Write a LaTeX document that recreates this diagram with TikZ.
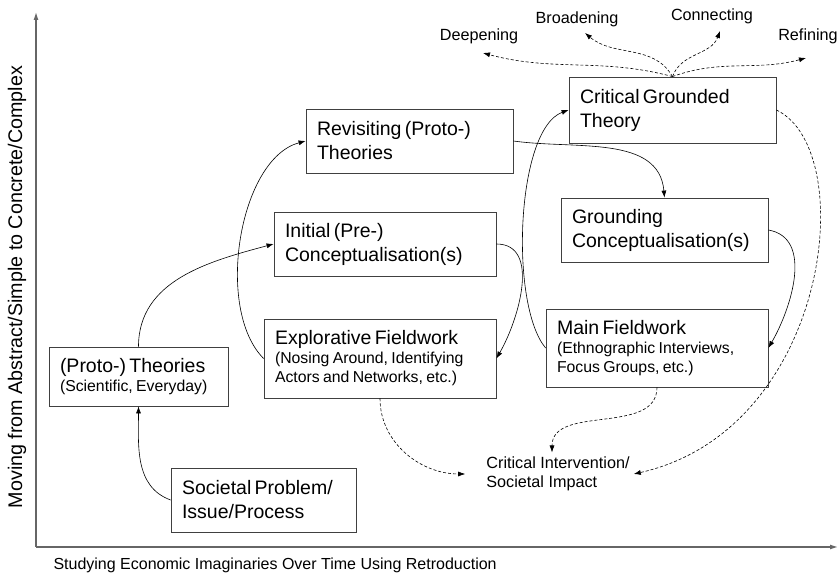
\documentclass[tikz,border=0pt]{standalone}
\usepackage{fontspec}
\setmainfont{Liberation Sans}
\usetikzlibrary{arrows.meta,positioning}
\newcommand{\boxhead}[1]{{\fontsize{19.5}{24}\selectfont #1\par}}
\newcommand{\boxsub}[1]{{\fontsize{15.8}{19}\selectfont #1\par}}

\begin{document}
\begin{tikzpicture}[x=1pt,y=1pt,
  stage/.style={draw=black!75,line width=0.8pt,rectangle,align=left,inner xsep=11pt,inner ysep=0pt},
  link/.style={-{Latex[length=7pt,width=5pt]},line width=0.6pt},
  feedback/.style={link,dash pattern=on 3pt off 2pt},
  axis/.style={-{Latex[length=8pt,width=5pt]},draw=black!60,line width=1.2pt},
  small/.style={font=\fontsize{16.2}{19.5}\selectfont}]
\useasboundingbox (0,0) rectangle (840,580);

% Achsen
\coordinate (origin) at (36,33);
\coordinate (xend) at (838,33);
\coordinate (yend) at (36,568);
\draw[axis] (origin) -- (xend);
\draw[axis] (origin) -- (yend);
\node[font=\fontsize{16}{19}\selectfont,anchor=west] (xlabel) at (50,15) {Studying Economic Imaginaries Over Time Using Retroduction};
\node[font=\fontsize{19.7}{23}\selectfont,rotate=90] (ylabel) at (17,293) {Moving from Abstract/Simple to Concrete/Complex};

% Stationen
\node[stage,text width=163pt,minimum height=64pt] (soc) at (263.5,80) {\boxhead{Societal Problem/\\Issue/Process}};
\node[stage,text width=157pt,minimum height=59pt] (proto) at (138.5,203.5) {\boxhead{(Proto-) Theories}\boxsub{(Scientific, Everyday)}};
\node[stage,text width=200pt,minimum height=64pt] (init) at (385,336) {\boxhead{Initial (Pre-)\\Conceptualisation(s)}};
\node[stage,text width=210pt,minimum height=79pt] (expl) at (380,221.5) {\boxhead{Explorative Fieldwork}\boxsub{(Nosing Around, Identifying\\Actors and Networks, etc.)}};
\node[stage,text width=185pt,minimum height=64pt] (rev) at (409.5,439) {\boxhead{Revisiting (Proto-)\\Theories}};
\node[stage,text width=185pt,minimum height=64pt] (grd) at (664.5,350) {\boxhead{Grounding\\Conceptualisation(s)}};
\node[stage,text width=200pt,minimum height=78pt] (main) at (657,232) {\boxhead{Main Fieldwork}\boxsub{(Ethnographic Interviews,\\Focus Groups, etc.)}};
\node[stage,text width=185pt,minimum height=66pt] (cgt) at (672.5,470) {\boxhead{Critical Grounded\\Theory}};

% Wirkung
\node[small,align=left,inner sep=4pt] (ci) at (558,106) {Critical Intervention/\\Societal Impact};

% Richtungen
\node[small] (deep) at (479,544) {Deepening};
\node[small] (broad) at (577,561) {Broadening};
\node[small] (conn) at (712,564) {Connecting};
\node[small] (refine) at (808,544) {Refining};
\coordinate (deepTip) at (483,527);
\coordinate (broadTip) at (585,547);
\coordinate (connTip) at (720,549);
\coordinate (refineTip) at (806,522);

% Verbindungen
\draw[link] (soc.west) to[out=160,in=-90] (proto.south);
\draw[link] (proto.north) to[out=90,in=195] (init.west);
\draw[link] (init.east) to[out=0,in=60] (expl.east);
\draw[link] (expl.west) to[out=135,in=195,looseness=0.8] (rev.west);
\draw[link] (rev.east) to[out=-8,in=95] (grd.north);
\draw[link] (grd.east) to[out=-10,in=60] (main.east);
\draw[link] (main.west) to[out=130,in=200,looseness=0.6] (cgt.west);

% gestrichelt
\draw[feedback] (cgt.east) .. controls +(84,-40) and +(196,44) .. (ci.east);
\draw[feedback] (main.south) to[out=-90,in=90] ([xshift=-6pt]ci.north);
\draw[feedback] (expl.south) to[out=-90,in=180] ([xshift=-17pt]ci.west);
\draw[feedback] (cgt.north) to[out=165,in=-15] (deepTip);
\draw[feedback] (cgt.north) to[out=120,in=-40] (broadTip);
\draw[feedback] (cgt.north) to[out=70,in=-110] (connTip);
\draw[feedback] (cgt.north) to[out=20,in=195] (refineTip);
\end{tikzpicture}
\end{document}
